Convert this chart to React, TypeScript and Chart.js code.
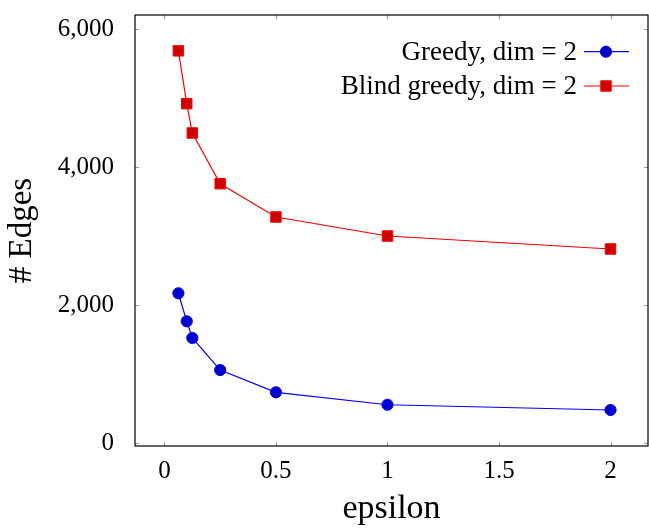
import React, { useEffect, useRef } from 'react';
import { Chart, registerables } from 'chart.js';

Chart.register(...registerables);

const EPSILON = [0.0625, 0.1, 0.125, 0.25, 0.5, 1, 2];
const GREEDY = [2174, 1768, 1526, 1062, 739, 559, 483];
const BLIND_GREEDY = [5688, 4922, 4497, 3762, 3280, 3004, 2816];
const X_TICKS = [0, 0.5, 1, 1.5, 2];
const Y_TICKS = [0, 2000, 4000, 6000];
const SERIES_LABELS = ['Greedy, dim = 2', 'Blind greedy, dim = 2'];
const X_TITLE = 'epsilon';
const Y_TITLE = '# Edges';

const FONT = "'Liberation Serif', serif";

function drawMarker(ctx: CanvasRenderingContext2D, ds: any, x: number, y: number) {
  ctx.save();
  ctx.fillStyle = ds.pointBackgroundColor;
  ctx.strokeStyle = ds.pointBorderColor;
  ctx.lineWidth = ds.pointBorderWidth;
  ctx.beginPath();
  if (ds.pointStyle === 'rect') {
    const s = Math.SQRT1_2 * ds.pointRadius;
    ctx.rect(x - s, y - s, 2 * s, 2 * s);
  } else {
    ctx.arc(x, y, ds.pointRadius, 0, Math.PI * 2);
  }
  ctx.fill();
  ctx.stroke();
  ctx.restore();
}

const framePlugin = {
  id: 'frame',
  beforeDatasetsDraw(chart: any) {
    const { ctx, chartArea: a, scales } = chart;
    ctx.save();
    ctx.strokeStyle = '#999999';
    ctx.lineWidth = 1;
    const tl = 4;
    ctx.beginPath();
    for (const v of X_TICKS) {
      const px = Math.round(scales.x.getPixelForValue(v)) + 0.5;
      ctx.moveTo(px, a.bottom);
      ctx.lineTo(px, a.bottom - tl);
      ctx.moveTo(px, a.top);
      ctx.lineTo(px, a.top + tl);
    }
    for (const v of Y_TICKS) {
      const py = Math.round(scales.y.getPixelForValue(v)) + 0.5;
      ctx.moveTo(a.left, py);
      ctx.lineTo(a.left + tl, py);
      ctx.moveTo(a.right, py);
      ctx.lineTo(a.right - tl, py);
    }
    ctx.stroke();
    ctx.strokeStyle = '#000000';
    ctx.lineWidth = 1.2;
    ctx.strokeRect(a.left, a.top, a.right - a.left, a.bottom - a.top);
    ctx.restore();
  },
};

const legendPlugin = {
  id: 'innerLegend',
  afterDraw(chart: any) {
    const { ctx, chartArea: a } = chart;
    ctx.save();
    ctx.font = `27px ${FONT}`;
    ctx.textAlign = 'right';
    ctx.textBaseline = 'middle';
    chart.data.datasets.forEach((ds: any, i: number) => {
      const y = a.top + 36.7 + i * 34.3;
      ctx.fillStyle = '#000000';
      ctx.fillText(ds.label, a.right - 71, y + 1);
      ctx.strokeStyle = ds.borderColor;
      ctx.lineWidth = ds.borderWidth;
      ctx.beginPath();
      ctx.moveTo(a.right - 64, y);
      ctx.lineTo(a.right - 19, y);
      ctx.stroke();
      drawMarker(ctx, ds, a.right - 42, y);
    });
    ctx.restore();
  },
};

export default function App() {
  const ref = useRef<HTMLCanvasElement>(null);
  useEffect(() => {
    document.body.style.margin = '0';
    const canvas = ref.current!;
    const chart = new Chart(canvas, {
      type: 'line',
      data: {
        datasets: [
          {
            label: SERIES_LABELS[0],
            data: EPSILON.map((x, i) => ({ x, y: GREEDY[i] })),
            borderColor: '#0000ff',
            borderWidth: 1.2,
            pointStyle: 'circle',
            pointRadius: 5.6,
            pointBorderWidth: 1,
            pointBackgroundColor: '#0000cc',
            pointBorderColor: '#0000ff',
            tension: 0,
          } as any,
          {
            label: SERIES_LABELS[1],
            data: EPSILON.map((x, i) => ({ x, y: BLIND_GREEDY[i] })),
            borderColor: '#ff0000',
            borderWidth: 1.2,
            pointStyle: 'rect',
            pointRadius: 7.4,
            pointBorderWidth: 1,
            pointBackgroundColor: '#cc0000',
            pointBorderColor: '#ff0000',
            tension: 0,
          } as any,
        ],
      },
      options: {
        responsive: false,
        animation: false,
        layout: { autoPadding: false, padding: { top: 15, right: 1, left: 0, bottom: 0 } },
        plugins: { legend: { display: false }, tooltip: { enabled: false } },
        scales: {
          x: {
            type: 'linear',
            min: -0.132,
            max: 2.168,
            grid: { display: false },
            border: { display: false },
            afterBuildTicks: (s: any) => {
              s.ticks = X_TICKS.map((v) => ({ value: v }));
            },
            afterFit: (s: any) => {
              s.height = 83;
              s.paddingLeft = 0;
              s.paddingRight = 0;
            },
            ticks: {
              padding: 2,
              color: '#000000',
              font: { family: FONT, size: 25 },
              callback: (v: any) => String(v),
            },
            title: {
              display: true,
              text: X_TITLE,
              color: '#000000',
              font: { family: FONT, size: 34 },
              padding: { top: 0, bottom: 0 },
            },
          },
          y: {
            type: 'linear',
            min: -39,
            max: 6207,
            grid: { display: false },
            border: { display: false },
            afterBuildTicks: (s: any) => {
              s.ticks = Y_TICKS.map((v) => ({ value: v }));
            },
            afterFit: (s: any) => {
              s.width = 135;
              s.paddingTop = 0;
              s.paddingBottom = 0;
            },
            ticks: {
              padding: 13,
              color: '#000000',
              font: { family: FONT, size: 25 },
              callback: (v: any) => Number(v).toLocaleString('en-US'),
            },
            title: {
              display: true,
              text: Y_TITLE,
              color: '#000000',
              font: { family: FONT, size: 33 },
              padding: { top: 3, bottom: 0 },
            },
          },
        },
      },
      plugins: [framePlugin, legendPlugin],
    });
    return () => chart.destroy();
  }, []);
  return <canvas ref={ref} width={649} height={529} style={{ display: 'block' }} />;
}
